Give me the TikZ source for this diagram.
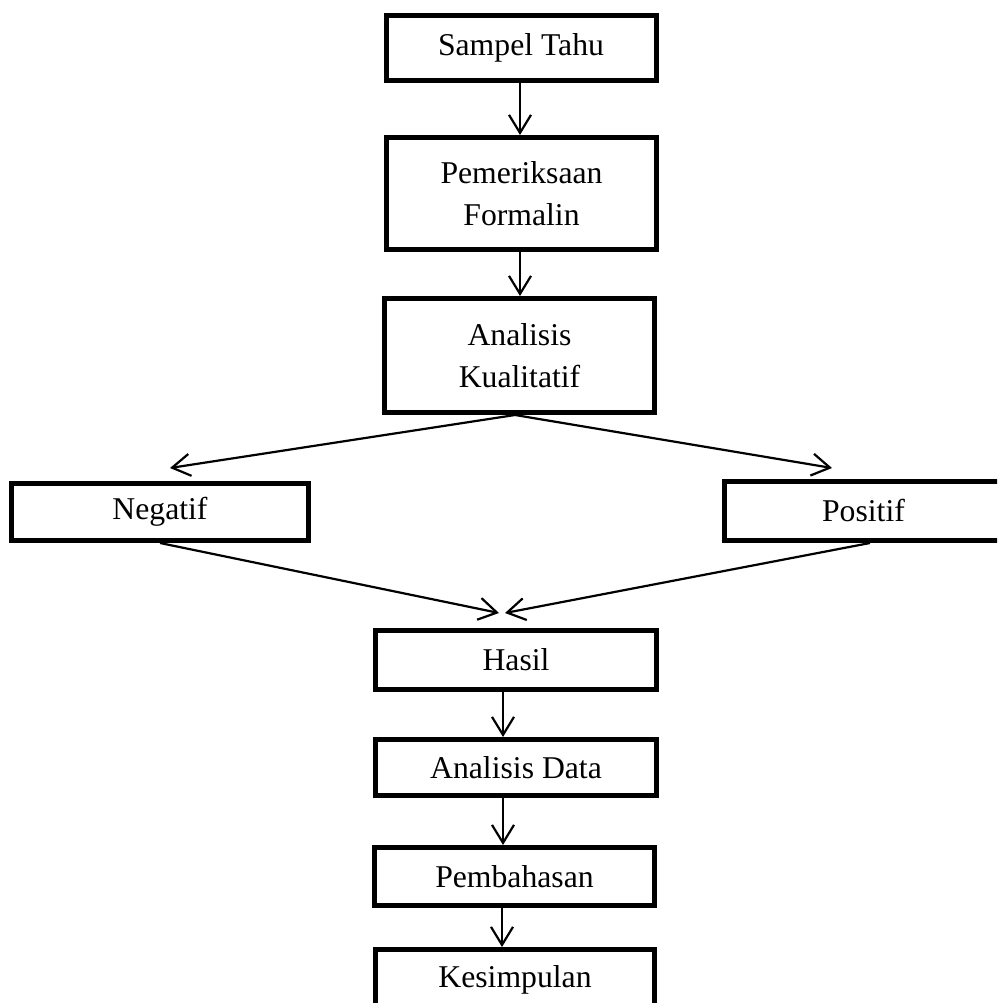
\documentclass[tikz,border=0pt]{standalone}
\usepackage{fontspec}
\setmainfont{Liberation Serif}
\usetikzlibrary{arrows.meta}
\begin{document}
\begin{tikzpicture}[x=1pt,y=-1pt,
  box/.style={draw, line width=5pt, rectangle, inner sep=0pt, align=center,
    font=\fontsize{31.7pt}{42pt}\selectfont},
  arr/.style={line width=2.2pt, -{Straight Barb[length=18pt,width=22pt]}}]
\useasboundingbox (0,0) rectangle (997,1003);
\clip (0,0) rectangle (997,1003);
\node[box, minimum width=270pt, minimum height=65pt] (sampel) at (521,48) {Sampel Tahu};
\node[box, minimum width=270pt, minimum height=112pt] (periksa) at (521.5,193.5) {Pemeriksaan\\Formalin};
\node[box, minimum width=270pt, minimum height=114pt] (analisis) at (519.5,355.5) {Analisis\\Kualitatif};
\node[box, minimum width=297pt, minimum height=57pt] (negatif) at (160,512) {Negatif};
\node[box, minimum width=278pt, minimum height=59.5pt] (positif) at (863.5,510.75) {Positif};
\node[box, minimum width=281pt, minimum height=59pt] (hasil) at (516,660) {Hasil};
\node[box, minimum width=281pt, minimum height=56pt] (adata) at (516,767.5) {Analisis Data};
\node[box, minimum width=280pt, minimum height=58pt] (bahas) at (514.5,876.5) {Pembahasan};
\node[box, minimum width=279pt, minimum height=60.5pt] (simpul) at (515,979.75) {Kesimpulan};

\draw[arr] ([xshift=-1pt]sampel.south) -- ([xshift=-1.5pt]periksa.north);
\draw[arr] ([xshift=-1.5pt]periksa.south) -- ([xshift=0.5pt]analisis.north);
\draw[arr] ([xshift=-4.5pt]analisis.south) -- ([xshift=10pt,yshift=13pt]negatif.north);
\draw[arr] ([xshift=-4.5pt]analisis.south) -- ([xshift=-31.5pt,yshift=10.5pt]positif.north);
\draw[arr] (negatif.south) -- ([xshift=-17pt,yshift=15pt]hasil.north);
\draw[arr] ([xshift=6.5pt]positif.south) -- ([xshift=-11pt,yshift=15pt]hasil.north);
\draw[arr] ([xshift=-13pt]hasil.south) -- ([xshift=-13pt]adata.north);
\draw[arr] ([xshift=-13pt]adata.south) -- ([xshift=-11.5pt]bahas.north);
\draw[arr] ([xshift=-12.5pt]bahas.south) -- ([xshift=-13pt]simpul.north);
\end{tikzpicture}
\end{document}
